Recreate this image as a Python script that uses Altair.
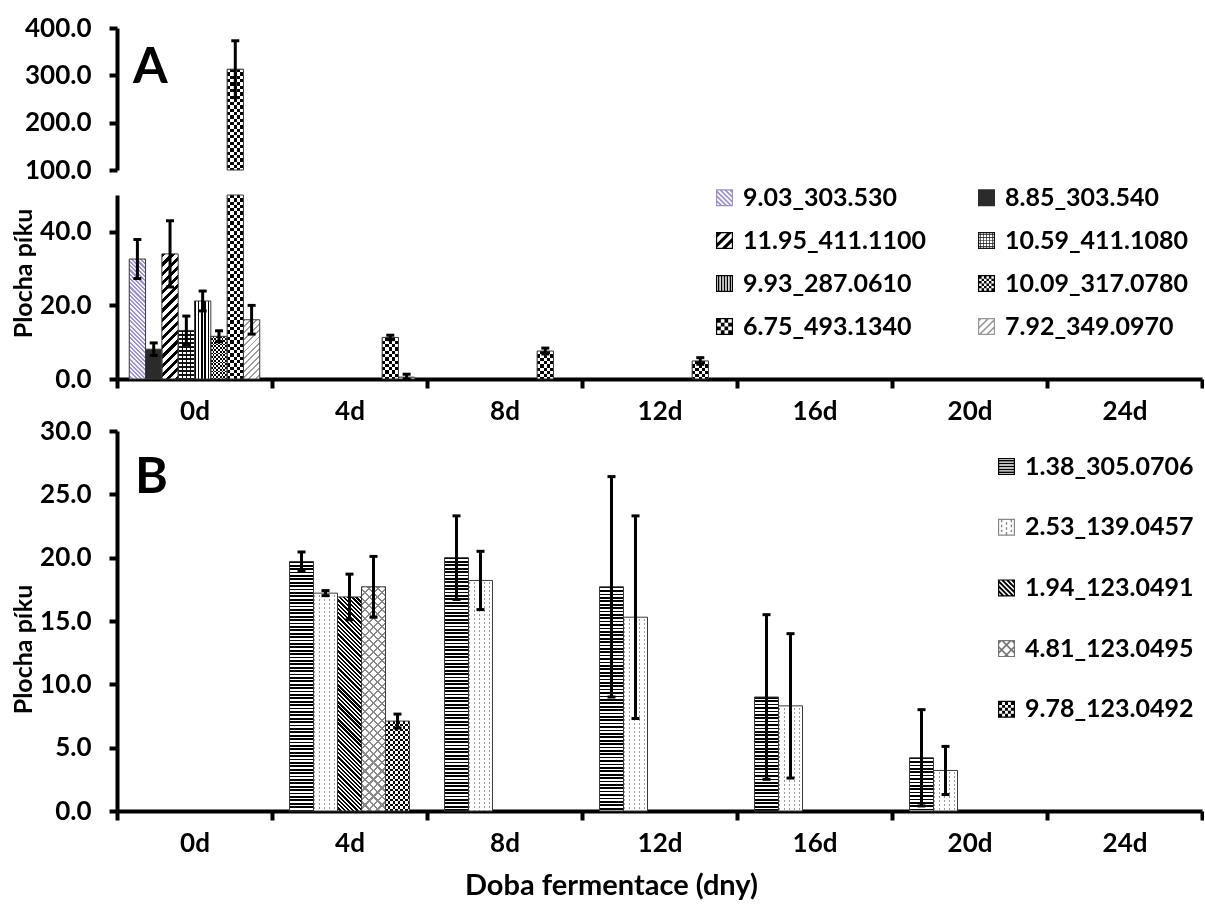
import math
import altair as alt
import pandas as pd

# ---------------- data ----------------
DAYS = ["0d", "4d", "8d", "12d", "16d", "20d", "24d"]

A_SERIES = ["9.03_303.530", "8.85_303.540", "11.95_411.1100", "10.59_411.1080",
            "9.93_287.0610", "10.09_317.0780", "6.75_493.1340", "7.92_349.0970"]
A_VALUES = {
    "9.03_303.530":   [32.6, None, None, None, None, None, None],
    "8.85_303.540":   [8.1, None, None, None, None, None, None],
    "11.95_411.1100": [34.0, None, None, None, None, None, None],
    "10.59_411.1080": [13.2, None, None, None, None, None, None],
    "9.93_287.0610":  [21.2, None, None, None, None, None, None],
    "10.09_317.0780": [11.6, None, None, None, None, None, None],
    "6.75_493.1340":  [313.0, 11.3, 7.6, 4.9, None, None, None],
    "7.92_349.0970":  [16.1, 0.5, None, None, None, None, None],
}
A_ERRORS = {
    "9.03_303.530":   [5.3, None, None, None, None, None, None],
    "8.85_303.540":   [1.7, None, None, None, None, None, None],
    "11.95_411.1100": [9.0, None, None, None, None, None, None],
    "10.59_411.1080": [3.9, None, None, None, None, None, None],
    "9.93_287.0610":  [2.7, None, None, None, None, None, None],
    "10.09_317.0780": [1.5, None, None, None, None, None, None],
    "6.75_493.1340":  [60.0, 0.6, 0.8, 0.9, None, None, None],
    "7.92_349.0970":  [3.9, 0.8, None, None, None, None, None],
}

B_SERIES = ["1.38_305.0706", "2.53_139.0457", "1.94_123.0491", "4.81_123.0495", "9.78_123.0492"]
B_VALUES = {
    "1.38_305.0706": [None, 19.7, 20.0, 17.7, 9.0, 4.2, None],
    "2.53_139.0457": [None, 17.2, 18.2, 15.3, 8.3, 3.2, None],
    "1.94_123.0491": [None, 16.9, None, None, None, None, None],
    "4.81_123.0495": [None, 17.7, None, None, None, None, None],
    "9.78_123.0492": [None, 7.1, None, None, None, None, None],
}
B_ERRORS = {
    "1.38_305.0706": [None, 0.75, 3.3, 8.7, 6.5, 3.8, None],
    "2.53_139.0457": [None, 0.2, 2.3, 8.0, 5.7, 1.9, None],
    "1.94_123.0491": [None, 1.8, None, None, None, None, None],
    "4.81_123.0495": [None, 2.4, None, None, None, None, None],
    "9.78_123.0492": [None, 0.55, None, None, None, None, None],
}

PANEL_LETTERS = ["A", "B"]

# ---------------- styles ----------------
FONT = "Lato"
PLOT_W = 1085
A_UP_H, A_LO_H, B_H = 142, 184, 380
TR = "rgba(0,0,0,0)"

A_PATTERNS = {
    "9.03_303.530":   [("\\", 3.0, "#9f93c6", "#f4f1f9", 0.5)],
    "8.85_303.540":   [("solid", "#2b2b2b")],
    "11.95_411.1100": [("/", 6.5, "#000000", "#ffffff", 0.45)],
    "10.59_411.1080": [("h", 4.0, "#111111", "#ffffff", 0.3), ("v", 4.0, "#111111", TR, 0.3)],
    "9.93_287.0610":  [("v", 3.3, "#000000", "#ffffff", 0.5)],
    "10.09_317.0780": [("h", 3.6, "#000000", "#ffffff", 0.5), ("v", 3.6, "#ffffff", TR, 0.5, "difference")],
    "6.75_493.1340":  [("h", 6.6, "#000000", "#ffffff", 0.5), ("v", 6.6, "#ffffff", TR, 0.5, "difference")],
    "7.92_349.0970":  [("/", 4.5, "#9c9c9c", "#ffffff", 0.3)],
}
B_PATTERNS = {
    "1.38_305.0706": [("h", 3.4, "#000000", "#ffffff", 0.5)],
    "2.53_139.0457": [("v", 5.0, "#9a9a9a", "#ffffff", 0.3), ("h", 4.0, "#ffffff", TR, 0.45)],
    "1.94_123.0491": [("\\", 3.0, "#000000", "#ffffff", 0.55)],
    "4.81_123.0495": [("/", 6.0, "#8a8a8a", "#ffffff", 0.25), ("\\", 6.0, "#8a8a8a", TR, 0.25)],
    "9.78_123.0492": [("h", 5.0, "#000000", "#ffffff", 0.5), ("v", 5.0, "#ffffff", TR, 0.5, "difference")],
}
A_LEGEND = {
    "9.03_303.530":   (("diag\\", 6, 0.5), "#9f93c6"),
    "8.85_303.540":   (("solid",), "#2b2b2b"),
    "11.95_411.1100": (("diag/", 3, 0.45), "#000000"),
    "10.59_411.1080": (("grid", 5, 0.22), "#111111"),
    "9.93_287.0610":  (("v", 5, 0.5), "#000000"),
    "10.09_317.0780": (("checker", 6), "#000000"),
    "6.75_493.1340":  (("checker", 4), "#000000"),
    "7.92_349.0970":  (("diag/", 4, 0.3), "#999999"),
}
B_LEGEND = {
    "1.38_305.0706": (("h", 5, 0.5), "#000000"),
    "2.53_139.0457": (("dash", 3, 3), "#888888"),
    "1.94_123.0491": (("diag\\", 6, 0.55), "#000000"),
    "4.81_123.0495": (("cross", 3, 0.25), "#777777"),
    "9.78_123.0492": (("checker", 5), "#000000"),
}


# ---------------- helpers ----------------
def long_df(series, values, errors):
    rows = []
    for s in series:
        for d, v, e in zip(DAYS, values[s], errors[s]):
            if v is not None:
                rows.append({"idx": len(rows), "series": s, "day": d,
                             "value": v, "err": e if e is not None else 0.0})
    return pd.DataFrame(rows)


def stripe_gradient(kind, w, h, period, c1, c2, frac):
    if kind == "h":
        x1, y1, x2, y2 = 0, 0, 0, 1
        length = h
    elif kind == "v":
        x1, y1, x2, y2 = 0, 0, 1, 0
        length = w
    else:
        r = h / w
        a = (1 + r) / (1 + r * r)
        if kind == "/":
            x1, y1, x2, y2 = 0, 0, a, r * a
        else:
            x1, y1, x2, y2 = 1, 0, 1 - a, r * a
        length = (w + h) / math.sqrt(2)
    n = max(length / period, 1.0)
    stops = []
    k = 0
    while k / n < 1:
        t0 = k / n
        t1 = min((k + frac) / n, 1.0)
        t2 = min((k + 1) / n, 1.0)
        stops += [(t0, c1), (t1, c1), (t1, c2), (t2, c2)]
        k += 1
    return {"gradient": "linear", "x1": round(x1, 5), "y1": round(y1, 5),
            "x2": round(x2, 5), "y2": round(y2, 5),
            "stops": [{"offset": round(o, 5), "color": c} for o, c in stops]}


INNER = 0.86


def _clip(poly, lo, hi):
    for axis, bound, sign in [(0, lo, 1), (0, hi, -1), (1, lo, 1), (1, hi, -1)]:
        out = []
        for i in range(len(poly)):
            cur, prev = poly[i], poly[i - 1]
            cin = (cur[axis] - bound) * sign >= 0
            pin = (prev[axis] - bound) * sign >= 0
            if cin != pin:
                t = (bound - prev[axis]) / (cur[axis] - prev[axis])
                out.append((prev[0] + t * (cur[0] - prev[0]), prev[1] + t * (cur[1] - prev[1])))
            if cin:
                out.append(cur)
        poly = out
        if not poly:
            break
    return poly


def _poly(pts):
    if len(pts) < 3:
        return ""
    n = len(pts)
    area = sum(pts[i][0] * pts[(i + 1) % n][1] - pts[(i + 1) % n][0] * pts[i][1] for i in range(n))
    if area < 0:
        pts = pts[::-1]
    return "M" + "L".join(f"{x:.3f},{y:.3f}" for x, y in pts) + "Z"


def _rect(x0, y0, x1, y1):
    return _poly([(x0, y0), (x1, y0), (x1, y1), (x0, y1)])


def legend_path(spec):
    kind = spec[0]
    I = INNER
    frame = "M-1,-1L1,-1L1,1L-1,1Z" + f"M-{I},-{I}L-{I},{I}L{I},{I}L{I},-{I}Z"
    parts = []
    if kind == "solid":
        return "M-1,-1L1,-1L1,1L-1,1Z"
    if kind in ("v", "h", "grid"):
        n, frac = spec[1], spec[2]
        p = 2 * I / n
        for i in range(n):
            a0 = -I + (i + (1 - frac) / 2) * p
            a1 = a0 + frac * p
            if kind in ("v", "grid"):
                parts.append(_rect(a0, -I, a1, I))
            if kind in ("h", "grid"):
                parts.append(_rect(-I, a0, I, a1))
    elif kind == "checker":
        n = spec[1]
        p = 2 * I / n
        for i in range(n):
            for j in range(n):
                if (i + j) % 2 == 0:
                    parts.append(_rect(-I + i * p, -I + j * p, -I + (i + 1) * p, -I + (j + 1) * p))
    elif kind == "dash":
        nc, nr = spec[1], spec[2]
        pc, pr = 2 * I / nc, 2 * I / nr
        for i in range(nc):
            for j in range(nr):
                off = 0.5 * pr if i % 2 else 0.0
                x0 = -I + (i + 0.35) * pc
                y0 = -I + j * pr + off
                parts.append(_rect(x0, max(y0, -I), x0 + 0.3 * pc, min(y0 + 0.5 * pr, I)))
    elif kind in ("diag/", "diag\\", "cross"):
        dirs = ["/", "\\"] if kind == "cross" else [kind[-1]]
        n, frac = spec[1], spec[2]
        p = 4 * I / n
        for d in dirs:
            for i in range(n + 1):
                c = -2 * I + i * p
                dd = frac * p
                if d == "/":
                    big = [(-3, c + 3), (3, c - 3), (3, c + dd - 3), (-3, c + dd + 3)]
                else:
                    big = [(-3, c - 3), (3, c + 3), (3, c + dd + 3), (-3, c + dd - 3)]
                parts.append(_poly(_clip(big, -I, I)))
    return frame + "".join(parts)


def x_axis(title=None, label_pad=10):
    kw = dict(labelFont=FONT, labelFontSize=26, labelFontWeight="bold", labelColor="black",
              labelAngle=0, labelPadding=label_pad, tickBand="extent", tickSize=9, tickWidth=4,
              tickColor="black", domainColor="black", domainWidth=4, grid=False)
    if title:
        kw.update(title=title, titleFont=FONT, titleFontSize=29, titleFontWeight="bold",
                  titleColor="black", titleX=494, titleY=74, titleAlign="center",
                  titleBaseline="middle")
    else:
        kw["title"] = None
    return alt.Axis(**kw)


def y_axis(values, title=None, title_y=0):
    kw = dict(values=values, format=".1f", labelFont=FONT, labelFontSize=26,
              labelFontWeight="bold", labelColor="black", labelPadding=18, tickSize=8,
              tickWidth=4, tickColor="black", domainColor="black", domainWidth=4, grid=False)
    if title:
        kw.update(title=title, titleFont=FONT, titleFontSize=25, titleFontWeight="bold",
                  titleColor="black", titleAngle=270, titleAlign="center",
                  titleBaseline="middle", titleX=-94, titleY=title_y)
    else:
        kw["title"] = None
    return alt.Axis(**kw)


def letter_layer(label, dx, dy):
    return alt.Chart(pd.DataFrame({"label": [label]})).mark_text(
        font=FONT, fontSize=50, fontWeight="bold", color="black",
        align="left", baseline="alphabetic"
    ).encode(text="label:N", x=alt.value(dx), y=alt.value(dy))


def panel(df, series, patterns, y_domain, height, yax, xax, pad_outer,
          bar_ok, err_ok, legend=None, legend_shapes=None, legend_order=None, letter=None):
    ppu = height / (y_domain[1] - y_domain[0])
    slot_w = PLOT_W / len(DAYS) / (len(series) + 2 * pad_outer)
    xenc = alt.X("day:N", sort=DAYS, scale=alt.Scale(domain=DAYS, paddingInner=0, paddingOuter=0), axis=xax)
    xoff = alt.XOffset("series:N", sort=series,
                       scale=alt.Scale(domain=series, paddingInner=0, paddingOuter=pad_outer))
    yscale = alt.Scale(domain=y_domain, clamp=True, nice=False)

    def yf(field):
        return alt.Y(f"{field}:Q", scale=yscale, axis=yax, stack=None)

    layers = []
    bar_ids, err_ids = [], []
    for row in df.itertuples():
        if bar_ok(row.value):
            bar_ids.append(int(row.idx))
            vis_h = max((min(row.value, y_domain[1]) - y_domain[0]) * ppu, 1.0)
            for spec in patterns[row.series]:
                if spec[0] == "solid":
                    kw = dict(fill=spec[1])
                else:
                    kw = dict(fill=stripe_gradient(spec[0], slot_w, vis_h, spec[1], spec[2], spec[3], spec[4]))
                    if len(spec) > 5:
                        kw["blend"] = spec[5]
                layers.append(
                    alt.Chart().transform_filter(alt.datum.idx == int(row.idx))
                    .mark_bar(strokeWidth=0, **kw)
                    .encode(x=xenc, xOffset=xoff, y=yf("value"))
                )
        if err_ok(row.value, row.err) and row.err > 0:
            err_ids.append(int(row.idx))

    layers.append(
        alt.Chart().transform_filter(alt.FieldOneOfPredicate(field="idx", oneOf=bar_ids))
        .mark_bar(fill="white", fillOpacity=0, stroke="#3a3a3a", strokeWidth=1)
        .encode(x=xenc, xOffset=xoff, y=yf("value"))
    )
    if err_ids:
        err_base = alt.Chart().transform_filter(
            alt.FieldOneOfPredicate(field="idx", oneOf=err_ids)
        ).transform_calculate(lo="datum.value - datum.err", hi="datum.value + datum.err")
        layers.append(err_base.mark_rule(color="black", strokeWidth=3)
                      .encode(x=xenc, xOffset=xoff, y=yf("lo"), y2="hi:Q"))
        layers.append(err_base.mark_tick(color="black", size=8, thickness=3, opacity=1)
                      .encode(x=xenc, xOffset=xoff, y=yf("hi")))
        layers.append(err_base.mark_tick(color="black", size=8, thickness=3, opacity=1)
                      .encode(x=xenc, xOffset=xoff, y=yf("lo")))
    if legend is not None:
        order = legend_order or series
        colors = [legend_shapes[s][1] for s in order]
        shapes = [legend_path(legend_shapes[s][0]) for s in order]
        layers.append(
            alt.Chart().transform_filter("false")
            .mark_point(filled=True, opacity=1)
            .encode(
                color=alt.Color("series:N", sort=order, scale=alt.Scale(domain=order, range=colors), legend=legend),
                shape=alt.Shape("series:N", sort=order, scale=alt.Scale(domain=order, range=shapes), legend=legend),
            )
        )
    if letter is not None:
        layers.append(letter)
    return alt.layer(*layers, data=df).properties(width=PLOT_W, height=height)


def legend_obj(x, y, cols, row_pad, col_pad):
    return alt.Legend(orient="none", legendX=x, legendY=y, columns=cols, title=None,
                      labelFont=FONT, labelFontSize=25, labelFontWeight="bold",
                      labelColor="black", labelLimit=400, labelOffset=6, symbolSize=289,
                      symbolStrokeWidth=0, symbolOpacity=1, rowPadding=row_pad,
                      columnPadding=col_pad, padding=0)


dfA = long_df(A_SERIES, A_VALUES, A_ERRORS)
dfB = long_df(B_SERIES, B_VALUES, B_ERRORS)

# two-column legend read row by row: fill the columns with alternate series
A_LEGEND_ORDER = A_SERIES[0::2] + A_SERIES[1::2]

a_upper = panel(
    dfA, A_SERIES, A_PATTERNS, [100, 400], A_UP_H,
    y_axis([100, 200, 300, 400]), None, 0.75,
    bar_ok=lambda v: v > 100, err_ok=lambda v, e: v > 100,
    letter=letter_layer(PANEL_LETTERS[0], 16, 55),
)
a_lower = panel(
    dfA, A_SERIES, A_PATTERNS, [0, 50], A_LO_H,
    y_axis([0, 20, 40], "Plocha píku", 78), x_axis(), 0.75,
    bar_ok=lambda v: True, err_ok=lambda v, e: v + e <= 50,
    legend=legend_obj(595, -10, 2, 17, 47), legend_shapes=A_LEGEND, legend_order=A_LEGEND_ORDER,
)
b_panel = panel(
    dfB, B_SERIES, B_PATTERNS, [0, 30], B_H,
    y_axis([0, 5, 10, 15, 20, 25, 30], "Plocha píku", 218), x_axis("Doba fermentace (dny)"), 0.73,
    bar_ok=lambda v: True, err_ok=lambda v, e: True,
    legend=legend_obj(877, 23, 1, 34.7, 10), legend_shapes=B_LEGEND,
    letter=letter_layer(PANEL_LETTERS[1], 18, 62),
)

panel_a = alt.vconcat(a_upper, a_lower, spacing=25, bounds="flush").resolve_scale(
    x="independent", y="independent", color="independent", shape="independent"
).resolve_legend(color="independent", shape="independent")

chart = alt.vconcat(panel_a, b_panel, spacing=-6).resolve_scale(
    x="independent", y="independent", xOffset="independent",
    color="independent", shape="independent"
).resolve_legend(color="independent", shape="independent").properties(
    padding={"left": 11, "top": 15, "right": 0, "bottom": 0}, background="white"
).configure_view(stroke=None)

chart.save("out.html", embed_options={"renderer": "svg", "actions": False})
